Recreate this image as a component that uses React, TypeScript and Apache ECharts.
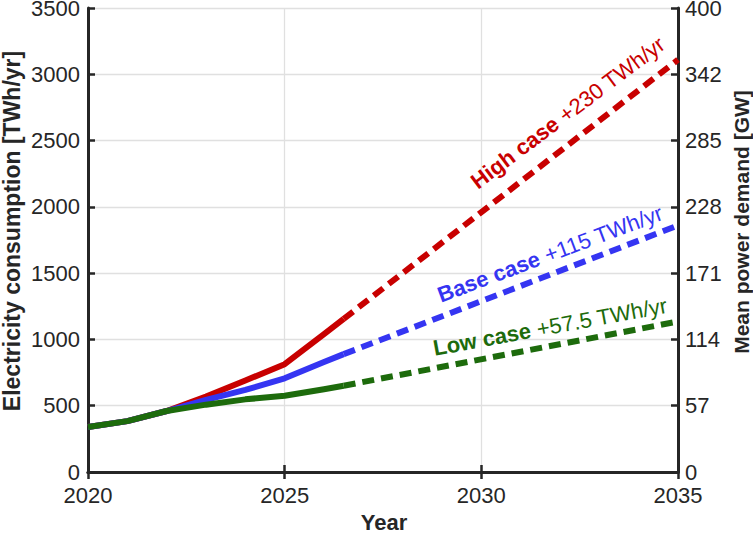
import React, { useEffect, useRef } from "react";
import * as echarts from "echarts";

// ---- data ----
const histYears = [2020, 2021, 2022, 2023, 2024, 2025, 2026, 2026.5];
const highHist = [340, 384, 460, 569, 690, 813, 1040, 1155];
const baseHist = [340, 384, 460, 544, 619, 707, 830, 889];
const lowHist = [340, 384, 460, 508, 548, 575, 624, 651];

const projYears = [2026.5, 2035];
const highProj = [1155, 3110];
const baseProj = [889, 1860];
const lowProj = [651, 1135];

const xTicks = [2020, 2025, 2030, 2035];
const leftTicks = [0, 500, 1000, 1500, 2000, 2500, 3000, 3500];
const rightTickLabels = ["0", "57", "114", "171", "228", "285", "342", "400"];

const labels = [
  { bold: "High case", rest: " +230 TWh/yr", x: 2032.2, y: 2710, angle: 37, color: "#c80000" },
  { bold: "Base case", rest: " +115 TWh/yr", x: 2031.75, y: 1645, angle: 20.5, color: "#3535f2" },
  { bold: "Low case", rest: " +57.5 TWh/yr", x: 2031.75, y: 1095, angle: 10.5, color: "#1d6b0c" },
];

const leftTitle = "Electricity consumption [TWh/yr]";
const rightTitle = "Mean power demand [GW]";
const xTitle = "Year";

const RED = "#c80000";
const BLUE = "#3535f2";
const GREEN = "#1d6b0c";
const AX = "#262626";
const FONT = "'Liberation Sans', Arial, Helvetica, sans-serif";

const zip = (xs: number[], ys: number[]) => xs.map((x, i) => [x, ys[i]]);

export default function App() {
  const ref = useRef<HTMLDivElement>(null);
  useEffect(() => {
    if (!ref.current) return;
    const chart = echarts.init(ref.current, undefined, { renderer: "svg" });
    const axisLine = { show: true, lineStyle: { color: AX, width: 3 } };
    const tick = { show: true, inside: true, length: 7, lineStyle: { color: AX, width: 2.5 } };
    const split = { show: true, lineStyle: { color: "#e0e0e0", width: 1.3 } };
    const lbl = { color: AX, fontSize: 22, fontFamily: FONT };
    const solid = (data: number[][], color: string) => ({
      type: "line",
      data,
      showSymbol: false,
      symbol: "none",
      lineStyle: { color, width: 6, cap: "butt", join: "round" },
      z: 3,
    });
    const dashed = (data: number[][], color: string) => ({
      type: "line",
      data,
      showSymbol: false,
      symbol: "none",
      lineStyle: { color, width: 6, type: [12, 7], cap: "butt" },
      z: 3,
    });
    chart.setOption({
      animation: false,
      grid: { left: 88, right: 75, top: 8, bottom: 62, containLabel: false, outerBoundsMode: "none" },
      xAxis: [
        {
          type: "value",
          min: 2020,
          max: 2035,
          interval: 5,
          position: "bottom",
          axisLine,
          axisTick: tick,
          splitLine: split,
          axisLabel: { ...lbl, margin: 12, formatter: (v: number) => (xTicks.includes(v) ? String(v) : "") },
        },
        {
          type: "value",
          min: 2020,
          max: 2035,
          interval: 5,
          position: "top",
          axisLine,
          axisTick: tick,
          splitLine: { show: false },
          axisLabel: { show: false },
        },
      ],
      yAxis: [
        {
          type: "value",
          min: 0,
          max: 3500,
          interval: 500,
          position: "left",
          axisLine,
          axisTick: tick,
          splitLine: split,
          axisLabel: { ...lbl, margin: 8, formatter: (v: number) => (leftTicks.includes(v) ? String(v) : "") },
        },
        {
          type: "value",
          min: 0,
          max: 3500,
          interval: 500,
          position: "right",
          axisLine,
          axisTick: tick,
          splitLine: { show: false },
          axisLabel: {
            ...lbl,
            margin: 7,
            formatter: (v: number) => rightTickLabels[leftTicks.indexOf(v)] ?? "",
          },
        },
      ],
      series: [
        solid(zip(histYears, highHist), RED),
        dashed(zip(projYears, highProj), RED),
        solid(zip(histYears, baseHist), BLUE),
        dashed(zip(projYears, baseProj), BLUE),
        solid(zip(histYears, lowHist), GREEN),
        dashed(zip(projYears, lowProj), GREEN),
      ],
    });
    const graphic: any[] = labels.map((l) => {
      const p = chart.convertToPixel({ gridIndex: 0 }, [l.x, l.y]) as number[];
      return {
        type: "text",
        x: p[0],
        y: p[1],
        rotation: (l.angle * Math.PI) / 180,
        z: 10,
        style: {
          text: `{b|${l.bold}}${l.rest}`,
          fill: l.color,
          fontSize: 22,
          fontFamily: FONT,
          align: "center",
          verticalAlign: "middle",
          rich: {
            b: { fontWeight: "bold", fill: l.color, fontSize: 22, fontFamily: FONT },
          },
        },
      };
    });
    const titleStyle = (text: string, size: number) => ({
      text,
      fill: AX,
      fontSize: size,
      fontWeight: "bold",
      fontFamily: FONT,
      align: "center",
      verticalAlign: "middle",
    });
    graphic.push(
      { type: "text", x: 12, y: 231, rotation: Math.PI / 2, z: 10, style: titleStyle(leftTitle, 23) },
      { type: "text", x: 741, y: 222, rotation: Math.PI / 2, z: 10, style: titleStyle(rightTitle, 21) },
      { type: "text", x: 384, y: 522, z: 10, style: titleStyle(xTitle, 22) }
    );
    chart.setOption({ graphic });
    return () => chart.dispose();
  }, []);
  return (
    <div
      ref={ref}
      style={{ position: "fixed", left: 0, top: 0, width: 753, height: 534, background: "#fff" }}
    />
  );
}
